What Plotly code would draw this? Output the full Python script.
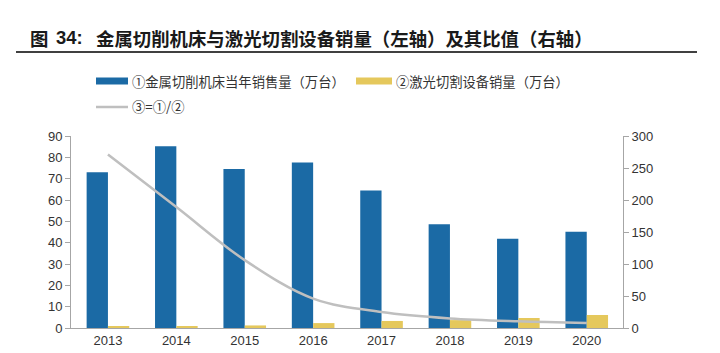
import plotly.graph_objects as go

years = ["2013", "2014", "2015", "2016", "2017", "2018", "2019", "2020"]
machine_tools = [73.0, 85.2, 74.5, 77.6, 64.4, 48.6, 41.8, 45.1]   # 万台, left axis
laser_cutting = [0.8, 0.9, 1.2, 2.3, 3.3, 3.7, 4.7, 6.1]           # 万台, left axis
ratio = [271, 189, 106, 46, 25, 15, 10.5, 8]                        # right axis

W, H = 720, 353
L, R, T, B = 71, 97, 136, 25
pw, ph = W - L - R, H - T - B

def px(x):
    return (x - L) / pw

def py(y):
    return (H - B - y) / ph

BLUE = "#1B6AA5"
YELLOW = "#E5C85C"
GRAY = "#BFBFBF"
AXIS = "#A6A6A6"
FONT = "Liberation Sans, Arial, Noto Sans CJK SC"
CJK = "Noto Sans CJK SC, Liberation Sans"

fig = go.Figure()
fig.add_trace(go.Bar(x=years, y=machine_tools, name="①金属切削机床当年销售量（万台）",
                     marker=dict(color=BLUE, line=dict(width=0)), yaxis="y"))
fig.add_trace(go.Bar(x=years, y=laser_cutting, name="②激光切割设备销量（万台）",
                     marker=dict(color=YELLOW, line=dict(width=0)), yaxis="y"))
fig.add_trace(go.Scatter(x=years, y=ratio, name="③=①/②", mode="lines",
                         line=dict(color=GRAY, width=2.5, shape="spline", smoothing=1.0),
                         yaxis="y2"))

shapes = []
annotations = []

# title (three pieces to reproduce the wide gaps) and underline
title_parts = [(28, "<b>图</b>", CJK), (54, "<b>34:</b>", FONT),
               (94, "<b>金属切削机床与激光切割设备销量（左轴）及其比值（右轴）</b>", CJK)]
for xp, txt, fam in title_parts:
    annotations.append(dict(text=txt, x=px(xp), y=py(38), xref="paper", yref="paper",
                            xanchor="left", yanchor="middle", showarrow=False,
                            font=dict(family=fam, size=18.4, color="#1a1a1a")))
shapes.append(dict(type="line", xref="paper", yref="paper",
                   x0=px(16), x1=px(697), y0=py(52), y1=py(52),
                   line=dict(color="#404040", width=2)))

# manual legend
legend_items = [
    (96, 81, 32, BLUE, "bar", "①金属切削机床当年销售量（万台）"),
    (356, 81, 36, YELLOW, "bar", "②激光切割设备销量（万台）"),
    (96, 107, 32, GRAY, "line", "③=①/②"),
]
for x0, yc, sw, col, kind, label in legend_items:
    if kind == "bar":
        shapes.append(dict(type="rect", xref="paper", yref="paper",
                           x0=px(x0), x1=px(x0 + sw), y0=py(yc + 3.5), y1=py(yc - 3.5),
                           fillcolor=col, line=dict(width=0)))
    else:
        shapes.append(dict(type="line", xref="paper", yref="paper",
                           x0=px(x0), x1=px(x0 + sw), y0=py(yc), y1=py(yc),
                           line=dict(color=col, width=2.5)))
    annotations.append(dict(text=label, x=px(x0 + sw + 2), y=py(yc), xref="paper", yref="paper",
                            xanchor="left", yanchor="middle", showarrow=False,
                            font=dict(family=CJK, size=13.3, color="#333333")))

fig.update_layout(
    width=W, height=H,
    margin=dict(l=L, r=R, t=T, b=B, autoexpand=False),
    paper_bgcolor="white", plot_bgcolor="white",
    barmode="group", bargap=0.377, bargroupgap=0.0,
    showlegend=False,
    font=dict(family=FONT, size=13, color="#333333"),
    xaxis=dict(type="category", range=[-0.54, 7.53], showline=True, linecolor=AXIS, linewidth=1,
               ticks="", showgrid=False, tickfont=dict(size=13), automargin=False),
    yaxis=dict(range=[0, 90], dtick=10, showline=True, linecolor=AXIS, linewidth=1,
               ticks="outside", ticklen=5, tickcolor=AXIS, showgrid=False, zeroline=False,
               tickfont=dict(size=13), automargin=False),
    yaxis2=dict(range=[0, 300], dtick=50, overlaying="y", side="right", showline=True,
                linecolor=AXIS, linewidth=1, ticks="outside", ticklen=5, tickcolor=AXIS,
                showgrid=False, zeroline=False, tickfont=dict(size=13), automargin=False),
    shapes=shapes,
    annotations=annotations,
)

fig.write_html("out.html")
